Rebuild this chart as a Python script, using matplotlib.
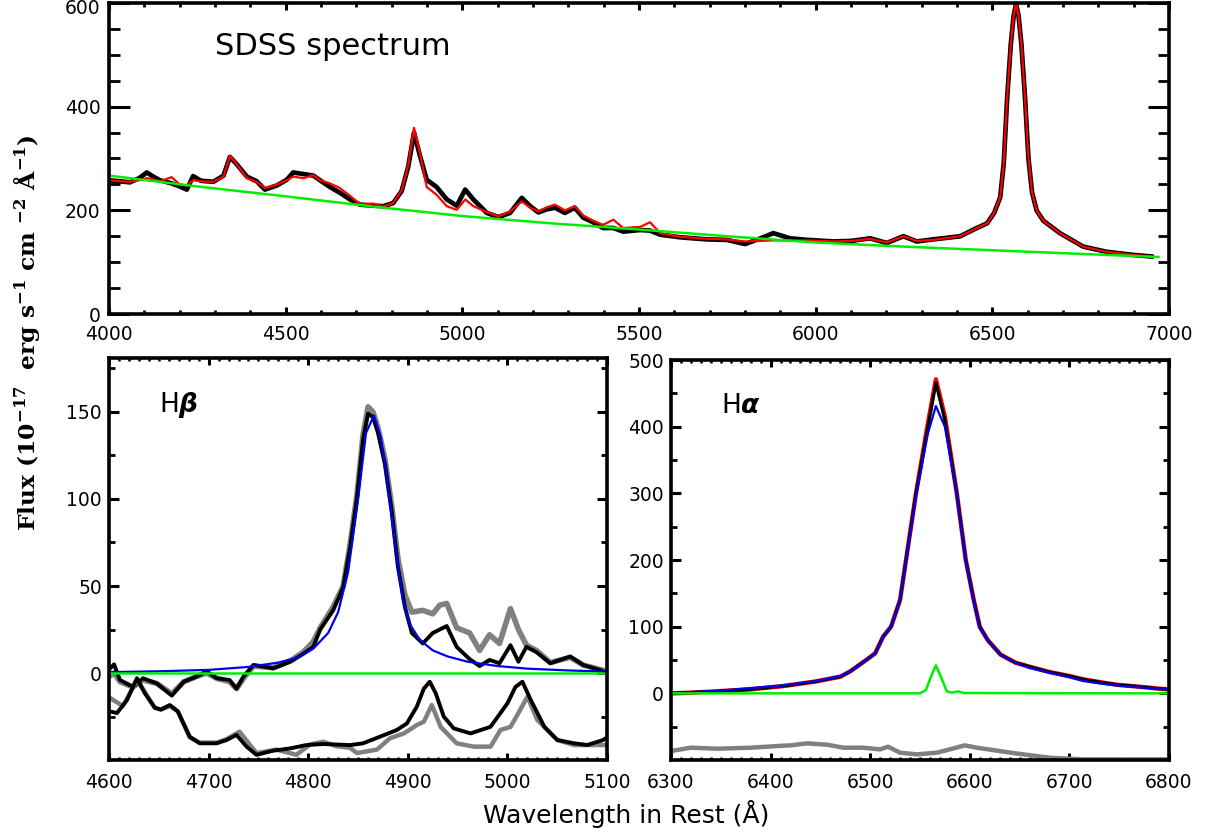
import numpy as np
import matplotlib
matplotlib.use('Agg')
import matplotlib.pyplot as plt
from matplotlib.ticker import MultipleLocator, FixedLocator, FuncFormatter

plt.rcParams['font.family'] = 'DejaVu Sans'
plt.rcParams['mathtext.default'] = 'regular'

# ---------------- top panel: SDSS spectrum ----------------
sdss_wave = [4000, 4030, 4059, 4085, 4107, 4125, 4144, 4177, 4200, 4220, 4238, 4260,
             4295, 4324, 4342, 4360, 4390, 4418, 4441, 4475, 4503, 4521, 4550, 4578,
             4597, 4625, 4653, 4682, 4710, 4748, 4776, 4804, 4828, 4847, 4863, 4880,
             4899, 4927, 4956, 4984, 5008, 5031, 5069, 5102, 5135, 5168, 5192, 5215,
             5239, 5262, 5290, 5318, 5342, 5370, 5398, 5427, 5455, 5503, 5531, 5560,
             5616, 5692, 5748, 5800, 5840, 5880, 5927, 5975, 6050, 6100, 6154, 6201,
             6248, 6286, 6333, 6409, 6447, 6485, 6505, 6522, 6532, 6542, 6552, 6560,
             6567, 6574, 6582, 6592, 6602, 6612, 6625, 6644, 6691, 6757, 6823, 6898, 6950]
sdss_flux = [258, 256, 254, 262, 273, 265, 258, 252, 246, 240, 266, 257,
             255, 267, 303, 290, 265, 256, 240, 248, 259, 273, 270, 267,
             258, 245, 234, 221, 211, 209, 208, 214, 237, 285, 350, 305,
             259, 245, 221, 209, 240, 221, 195, 187, 195, 224, 208, 196,
             202, 205, 195, 205, 186, 177, 166, 166, 159, 162, 161, 153,
             148, 144, 143, 135, 145, 156, 146, 143, 140, 141, 146, 137,
             150, 140, 144, 150, 163, 175, 195, 225, 290, 420, 520, 575,
             598, 575, 520, 420, 300, 235, 200, 180, 156, 130, 120, 114, 111]
sdss_model = [258, 256, 255, 258, 262, 260, 256, 264, 250, 248, 258, 256,
              255, 265, 305, 290, 262, 255, 243, 250, 258, 265, 262, 268,
              258, 252, 243, 228, 212, 213, 207, 214, 238, 288, 359, 310,
              245, 230, 208, 201, 221, 208, 197, 188, 198, 217, 205, 198,
              206, 211, 200, 208, 190, 180, 172, 182, 166, 168, 177, 156,
              149, 145, 144, 140, 141, 142, 142, 142, 140, 141, 145, 138,
              150, 141, 143, 150, 163, 175, 195, 225, 290, 420, 520, 575,
              600, 575, 520, 420, 300, 235, 200, 180, 156, 130, 120, 114, 111]
cont_wave = [4000, 4250, 4500, 4750, 5000, 5250, 5500, 5750, 6000, 6250, 6500, 6750, 6970]
cont_flux = [267, 246, 227, 207, 189, 175, 163, 150, 138, 130, 123, 116, 110]

# ---------------- H-beta panel ----------------
hb_wave = [4600, 4605, 4611, 4624, 4634, 4648, 4663, 4675, 4688, 4698, 4708, 4721,
           4728, 4735, 4745, 4765, 4782, 4795, 4805, 4812, 4825, 4835, 4842, 4849,
           4855, 4860, 4865, 4870, 4877, 4884, 4890, 4897, 4904, 4915, 4925, 4932,
           4939, 4949, 4962, 4972, 4982, 4992, 5003, 5011, 5019, 5029, 5043, 5063,
           5076, 5093, 5100]
hb_resid = [2, 5, -4, -8, -3, -6, -13, -5, -2, 1, -3, -4,
            -9, -2, 4.6, 2.7, 6.5, 11, 15, 25, 36, 49, 72, 101,
            134, 149, 147, 138, 120, 92, 61, 38, 23, 17, 23, 25,
            27, 15, 8, 4, 7.5, 5.6, 16, 6.5, 15, 12, 5.6, 9.5,
            4.6, 1.7, 0]
hb_resid_gray = [-2, 0, -5, -8, -4, -6, -12, -5, -2, 0, -3, -5,
                 -9, -3, 4, 3, 7, 12, 18, 26, 38, 50, 74, 103,
                 137, 153, 150, 141, 123, 95, 66, 45, 35, 36, 34, 39,
                 40, 26, 23, 13, 22, 17, 37, 25, 16, 13, 6, 9,
                 4.6, 2, 1]
hb_broad_wave = [4600, 4650, 4700, 4740, 4770, 4790, 4805, 4820, 4830, 4840, 4850,
                 4858, 4866, 4873, 4880, 4888, 4895, 4902, 4912, 4925, 4940, 4960,
                 4990, 5020, 5060, 5100]
hb_broad = [0.5, 1, 1.8, 3.5, 6, 9, 14, 23, 35, 58, 100,
            138, 148, 135, 108, 70, 42, 28, 19, 13, 9.5, 6.5,
            4, 2.5, 1.5, 0.8]
hb_fe_wave = [4600, 4608, 4618, 4628, 4636, 4646, 4652, 4661, 4669, 4681, 4691, 4708,
              4718, 4728, 4738, 4748, 4765, 4782, 4798, 4815, 4842, 4855, 4872, 4889,
              4899, 4909, 4916, 4922, 4928, 4936, 4946, 4963, 4983, 5000, 5008, 5015,
              5023, 5037, 5050, 5067, 5080, 5096, 5100]
hb_fe = [-22, -23, -15.5, -3, -11.7, -20, -21, -18.4, -22, -36.6, -40.4, -40.4,
         -38.5, -35.6, -42.3, -47, -44.6, -43.3, -41.4, -40.8, -41.4, -40.4, -36.6, -32.7,
         -29, -19.3, -9, -5, -11.7, -25, -31.8, -34.7, -30.9, -17.4, -8, -5,
         -15, -30.9, -38.5, -40.4, -41.4, -38.5, -37]
hb_fe_gray_wave = [4600, 4614, 4628, 4636, 4646, 4652, 4661, 4669, 4681, 4691, 4708,
                   4718, 4731, 4748, 4768, 4788, 4802, 4815, 4828, 4842, 4849, 4869,
                   4882, 4896, 4909, 4916, 4924, 4933, 4949, 4966, 4983, 4993, 5003,
                   5010, 5020, 5030, 5050, 5067, 5100]
hb_fe_gray = [-14, -19, -4, -11, -20, -21, -19, -22, -37, -40, -40,
              -38, -33.7, -46, -44, -47, -41, -39.5, -42, -43, -46, -44,
              -37.5, -34.7, -29.9, -28, -18.4, -31, -40.4, -42.3, -42.3, -32.7, -31,
              -24, -13.6, -27, -38.5, -41.4, -41.4]

# ---------------- H-alpha panel ----------------
ha_wave = [6300, 6320, 6345, 6380, 6413, 6446, 6470, 6480, 6496, 6505, 6513, 6521,
           6530, 6536, 6546, 6558, 6566, 6575, 6587, 6596, 6604, 6610, 6618, 6631,
           6646, 6660, 6680, 6700, 6714, 6730, 6747, 6770, 6790, 6800]
ha_flux = [0, 1, 3, 6, 11, 18, 25, 33, 50, 60, 85, 100,
           140, 200, 300, 400, 466, 410, 300, 200, 140, 100, 80, 58,
           46, 40, 32, 26, 21, 17, 13, 10, 7, 6]
ha_model = [0, 1, 3, 6, 11, 18, 25, 33, 50, 60, 85, 100,
            140, 200, 300, 405, 471, 415, 300, 200, 140, 100, 80, 58,
            46, 40, 32, 26, 21, 17, 13, 10, 7, 6]
ha_broad = [1, 2, 3.5, 8, 12, 18.5, 26, 33, 50, 60, 85, 100,
            140, 198, 295, 390, 431, 400, 298, 198, 138, 98, 80, 58,
            46, 38, 31, 24, 18.5, 15, 12, 9, 7, 6]
ha_narrow_wave = [6300, 6550, 6556, 6561, 6566, 6571, 6577, 6582, 6588, 6594, 6800]
ha_narrow = [0, 0, 5, 25, 42, 25, 3, 1, 3, 0.5, 0]
ha_fe_wave = [6300, 6320, 6347, 6380, 6407, 6420, 6437, 6457, 6473, 6493, 6510, 6518,
              6530, 6547, 6567, 6580, 6595, 6607, 6630, 6646, 6680, 6714, 6800]
ha_fe = [-86.5, -81.5, -83, -81.5, -79, -78, -75, -77, -81.5, -81.5, -84, -80,
         -89, -91.5, -89, -84, -78, -81.5, -86.5, -90, -96.5, -99, -99]

fig = plt.figure(figsize=(12.05, 8.33), dpi=100)

ax1 = fig.add_axes([0.0905, 0.6230, 0.8797, 0.3735])
ax2 = fig.add_axes([0.0905, 0.0876, 0.4133, 0.4826])
ax3 = fig.add_axes([0.5568, 0.0876, 0.4133, 0.4802])

# top
ax1.plot(sdss_wave, sdss_flux, color='black', lw=3.4)
ax1.plot(sdss_wave, sdss_model, color='red', lw=1.6)
ax1.plot(cont_wave, cont_flux, color='#00ee00', lw=1.8)
ax1.set_xlim(4000, 7000)
ax1.set_ylim(0, 600)
ax1.xaxis.set_major_locator(MultipleLocator(500))
ax1.xaxis.set_minor_locator(MultipleLocator(100))
ax1.yaxis.set_major_locator(MultipleLocator(200))
ax1.yaxis.set_minor_locator(MultipleLocator(50))
# the top label (600) is drawn separately, hanging below the frame corner
ax1.yaxis.set_major_formatter(FuncFormatter(lambda v, p: '' if v >= 600 else '%d' % v))
ax1.annotate('600', xy=(0, 600), xycoords=('axes fraction', 'data'),
             xytext=(-6, 2.5), textcoords='offset points', ha='right', va='top',
             fontsize=13.5)
ax1.tick_params(axis='y', which='major', length=15, width=2.2)
ax1.tick_params(axis='y', which='minor', length=8, width=2.0)
ax1.tick_params(axis='x', which='major', length=5, width=2.2)
ax1.tick_params(axis='x', which='minor', length=3, width=2.0)
ax1.tick_params(axis='x', pad=8)
ax1.tick_params(axis='y', pad=6)
ax1.text(0.1, 0.833, 'SDSS spectrum', transform=ax1.transAxes, fontsize=22,
         va='baseline', ha='left')

# H-beta
ax2.plot(hb_wave, hb_resid_gray, color='#808080', lw=4)
ax2.plot(hb_wave, hb_resid, color='black', lw=2.8)
ax2.plot(hb_broad_wave, hb_broad, color='#0000ee', lw=1.6)
ax2.plot([4600, 5100], [0, 0], color='#00ee00', lw=1.8)
ax2.plot(hb_fe_gray_wave, hb_fe_gray, color='#808080', lw=3.2)
ax2.plot(hb_fe_wave, hb_fe, color='black', lw=2.8)
ax2.set_xlim(4600, 5100)
ax2.set_ylim(-50, 181)
ax2.xaxis.set_major_locator(MultipleLocator(100))
ax2.xaxis.set_minor_locator(MultipleLocator(10))
ax2.yaxis.set_major_locator(FixedLocator([0, 50, 100, 150]))
ax2.yaxis.set_minor_locator(FixedLocator([-25, 25, 75, 125, 175]))
ax2.text(0.10, 0.866, r'H$\boldsymbol{\beta}$', transform=ax2.transAxes,
         fontsize=19, va='baseline', ha='left')

# H-alpha
ax3.plot(ha_wave, ha_model, color='red', lw=3.2)
ax3.plot(ha_wave, ha_flux, color='black', lw=2.2)
ax3.plot(ha_wave, ha_broad, color='#0000ee', lw=1.6)
ax3.plot(ha_narrow_wave, ha_narrow, color='#00ee00', lw=1.8)
ax3.plot(ha_fe_wave, ha_fe, color='#808080', lw=3.2)
ax3.set_xlim(6300, 6800)
ax3.set_ylim(-100, 500)
ax3.xaxis.set_major_locator(MultipleLocator(100))
ax3.xaxis.set_minor_locator(MultipleLocator(10))
ax3.yaxis.set_major_locator(FixedLocator([0, 100, 200, 300, 400, 500]))
ax3.yaxis.set_minor_locator(FixedLocator([-50, 50, 150, 250, 350, 450]))
ax3.text(0.10, 0.8675, r'H$\boldsymbol{\alpha}$', transform=ax3.transAxes,
         fontsize=19, va='baseline', ha='left')

for ax in (ax2, ax3):
    ax.tick_params(axis='y', which='major', length=7.5, width=2.2, pad=5)
    ax.tick_params(axis='y', which='minor', length=4.5, width=2.0)
    ax.tick_params(axis='x', which='major', length=5, width=2.2, pad=9)
    ax.tick_params(axis='x', which='minor', length=2.2, width=1.8)

for ax in (ax1, ax2, ax3):
    ax.tick_params(which='both', direction='in', top=True, right=True,
                   labelsize=13.5)
    for s in ax.spines.values():
        s.set_linewidth(2.6)

fig.text(0.0216, 0.601, 'Flux (10$^{-17}$  erg s$^{-1}$ cm $^{-2}$ Å$^{-1}$)',
         rotation=90, ha='center', va='center', fontsize=16.8,
         family='DejaVu Serif', fontweight='bold')
fig.text(0.520, 0.012, 'Wavelength in Rest (Å)', ha='center', va='baseline',
         fontsize=18)

fig.savefig('out.png', dpi=100)
